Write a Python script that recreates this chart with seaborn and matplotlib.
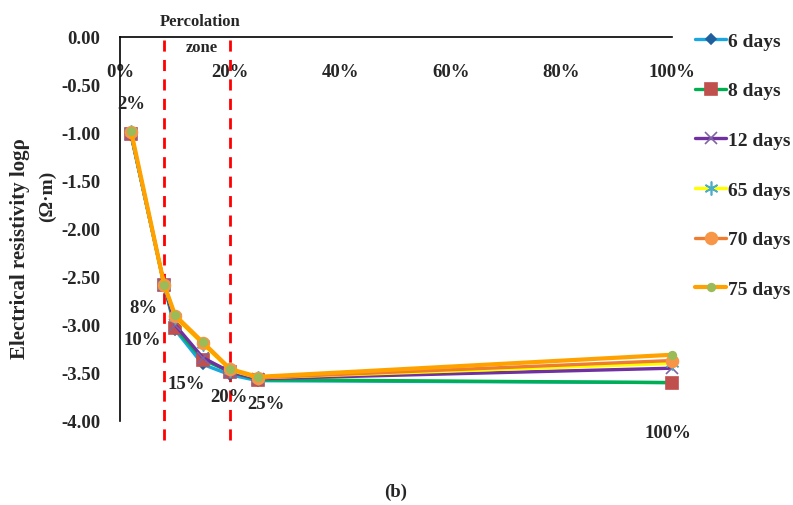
import numpy as np
import matplotlib
matplotlib.use('Agg')
import matplotlib.pyplot as plt
import seaborn as sns
import pandas as pd

# data
content = [2, 8, 10, 15, 20, 25, 100]
series = ['6 days', '8 days', '12 days', '65 days', '70 days', '75 days']
values = {
    '6 days':  [-1.02, -2.58, -3.05, -3.41, -3.52, -3.58, -3.60],
    '8 days':  [-1.01, -2.58, -3.03, -3.36, -3.49, -3.57, -3.60],
    '12 days': [-1.01, -2.58, -3.00, -3.34, -3.49, -3.56, -3.45],
    '65 days': [-0.99, -2.58, -2.92, -3.20, -3.47, -3.55, -3.40],
    '70 days': [-0.99, -2.58, -2.91, -3.19, -3.46, -3.55, -3.37],
    '75 days': [-0.98, -2.58, -2.90, -3.18, -3.46, -3.54, -3.31],
}
point_labels = ['2%', '8%', '10%', '15%', '20%', '25%', '100%']
x_ticks = [0, 20, 40, 60, 80, 100]
y_ticks = [0.0, -0.5, -1.0, -1.5, -2.0, -2.5, -3.0, -3.5, -4.0]
zone_edges = [8, 20]

# styles
line_colors = ['#1AA7E0', '#00B050', '#7030A0', '#FFFF00', '#ED7D31', '#FFA200']
marker_faces = ['#1F5F9E', '#C0504D', '#8064A2', '#4BACC6', '#F79646', '#9BBB59']
marker_kinds = ['D', 's', 'x', (6, 2, 0), 'o', 'o']
marker_sizes = [5.5, 8, 9, 10, 8.5, 5.5]
line_widths = [2.4, 2.4, 2.4, 2.4, 2.4, 3.0]

sns.set_style('white')
plt.rcParams['font.family'] = ['Liberation Serif', 'DejaVu Serif']
plt.rcParams['font.weight'] = 'bold'

fig = plt.figure(figsize=(7.93, 5.06), dpi=100)
ax = fig.add_axes([120 / 793, 1 - 422 / 506, 552 / 793, 384 / 506])

for i, name in enumerate(series):
    df = pd.DataFrame({'x': content, 'y': values[name]})
    sns.lineplot(data=df, x='x', y='y', ax=ax, color=line_colors[i],
                 linewidth=line_widths[i], marker=marker_kinds[i],
                 markersize=marker_sizes[i], markerfacecolor=marker_faces[i],
                 markeredgecolor=marker_faces[i], markeredgewidth=1.2,
                 label=name, clip_on=False, zorder=3 + i)

# percolation zone borders
for xe in zone_edges:
    ax.axvline(xe, ymin=-0.05, ymax=1.0, color='#FF0000', lw=2,
               ls=(0, (4, 3)), clip_on=False, zorder=2)

ax.set_xlim(0, 100)
ax.set_ylim(-4, 0)
ax.spines['bottom'].set_position(('data', 0))
ax.spines['top'].set_visible(False)
ax.spines['right'].set_visible(False)
for s in ['left', 'bottom']:
    ax.spines[s].set_color('black')
    ax.spines[s].set_linewidth(1.2)

ax.set_xticks(x_ticks)
ax.set_xticklabels([f'{t}%' for t in x_ticks])
ax.set_yticks(y_ticks)
ax.set_yticklabels([f'{t:.2f}' for t in y_ticks])
ax.tick_params(axis='x', length=0, pad=19, labelsize=13.5)
ax.tick_params(axis='y', length=0, pad=14, labelsize=13.5)
for lab in ax.get_xticklabels() + ax.get_yticklabels():
    lab.set_fontweight('bold')
ax.set_xlabel('')
ax.set_ylabel('')

# labels next to points
label_pos = [(2, -0.69), (4.2, -2.82), (4.0, -3.15), (12, -3.61),
             (19.8, -3.74), (26.4, -3.82), (99.3, -4.12)]
for txt, (px, py) in zip(point_labels, label_pos):
    ax.text(px, py, txt, ha='center', va='center', fontsize=13.5,
            fontweight='bold', clip_on=False)

ax.text(14.5, 0.17, 'Percolation', ha='center', va='center', fontsize=12,
        fontweight='bold', clip_on=False)
ax.text(14.9, -0.10, 'zone', ha='center', va='center', fontsize=12,
        fontweight='bold', clip_on=False)

fig.text(20 / 793, 1 - 249 / 506, 'Electrical resistivity logρ', rotation=90,
         ha='center', va='center', fontsize=15, fontweight='bold')
fig.text(47 / 793, 1 - 196 / 506, '(Ω·m)', rotation=90,
         ha='center', va='center', fontsize=14, fontweight='bold')
fig.text(396 / 793, 1 - 492 / 506, '(b)', ha='center', va='center',
         fontsize=13.5, fontweight='bold')

handles, labels = ax.get_legend_handles_labels()
ax.legend(handles, labels, loc='upper left',
          bbox_to_anchor=(695 / 793, 1 - 33 / 506),
          bbox_transform=fig.transFigure, frameon=False, fontsize=14,
          handlelength=1.6, handletextpad=0.1, labelspacing=1.65,
          borderpad=0, borderaxespad=0)
for t in ax.get_legend().get_texts():
    t.set_fontweight('bold')

fig.savefig('out.png', dpi=100)
